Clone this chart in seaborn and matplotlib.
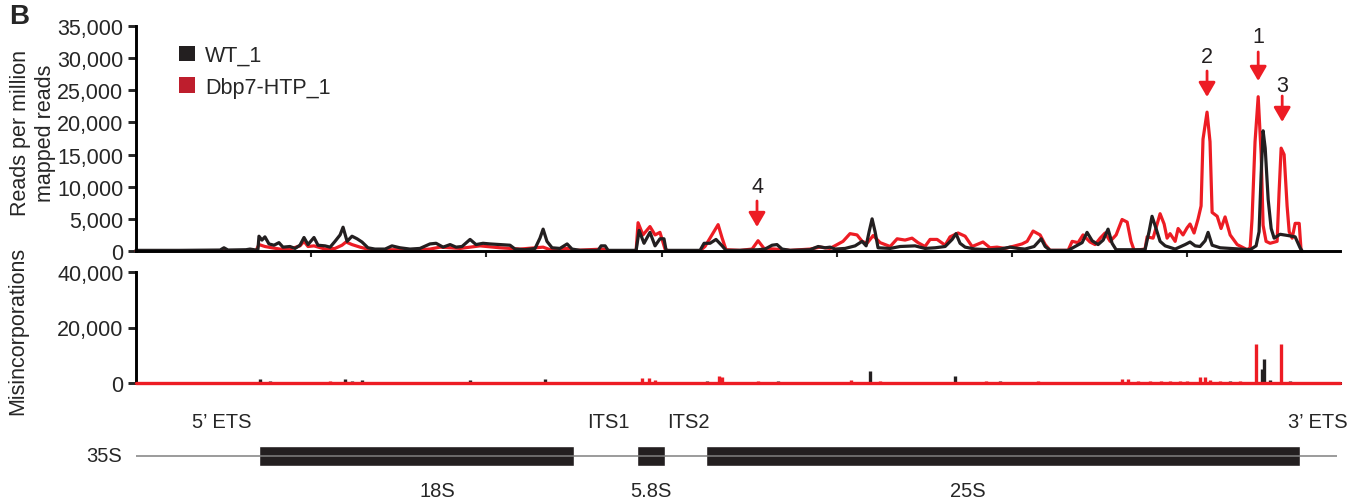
import matplotlib
matplotlib.use("Agg")
import matplotlib.pyplot as plt
import seaborn as sns
import numpy as np
import pandas as pd
from matplotlib.patches import Patch
from matplotlib.ticker import FuncFormatter

# ---------------- data (nucleotide position along 35S, value) ----------------
wt_pos = [0, 251, 480, 502, 525, 628, 651, 685, 696, 702, 719, 736, 759, 788, 816, 839, 879, 908, 936, 959,
          982, 1016, 1039, 1079, 1108, 1136, 1165, 1182, 1205, 1233, 1262, 1290, 1324, 1364, 1422, 1461, 1507,
          1564, 1621, 1678, 1713, 1753, 1793, 1827, 1861, 1907, 1941, 1981, 2021, 2078, 2135, 2164, 2221, 2278,
          2306, 2324, 2346, 2375, 2420, 2461, 2489, 2535, 2638, 2655, 2678, 2695, 2855, 2872, 2900, 2934, 2963,
          2991, 3014, 3026, 3220, 3243, 3277, 3311, 3346, 3368, 3448, 3551, 3591, 3631, 3659, 3688, 3734, 3848,
          3894, 3934, 3962, 3991, 4048, 4105, 4145, 4168, 4185, 4202, 4219, 4236, 4305, 4362, 4447, 4504, 4562,
          4619, 4659, 4681, 4704, 4733, 4790, 4875, 4933, 4990, 5035, 5075, 5127, 5167, 5190, 5218, 5321, 5361,
          5401, 5429, 5458, 5492, 5521, 5549, 5572, 5595, 5760, 5783, 5800, 5823, 5846, 5875, 5932, 5989, 6017,
          6046, 6074, 6103, 6120, 6143, 6189, 6303, 6360, 6394, 6411, 6423, 6434, 6446, 6463, 6480, 6497, 6531,
          6577, 6617, 6645, 6657]
wt_rpm = [100, 100, 150, 500, 150, 200, 300, 150, 200, 2300, 1700, 2200, 1100, 900, 1300, 600, 700, 400, 900, 2100,
          1000, 2100, 900, 800, 600, 1500, 2500, 3700, 1500, 2300, 1900, 1400, 500, 300, 300, 800, 500,
          300, 400, 1100, 1200, 600, 1000, 600, 700, 1800, 1000, 1200, 1100, 1000, 900, 300, 200, 400,
          2000, 3400, 1500, 500, 400, 1100, 300, 100, 100, 800, 800, 100, 100, 3200, 1200, 2900, 800,
          1900, 1900, 100, 100, 1200, 1200, 1800, 800, 100, 100, 200, 300, 900, 1000, 300, 100, 200,
          700, 500, 600, 300, 400, 800, 1500, 800, 3000, 5000, 3000, 500, 400, 700, 800, 400, 500,
          700, 1800, 2700, 1200, 600, 300, 200, 300, 600, 400, 300, 700, 1900, 700, 100, 100, 700,
          1300, 2900, 1600, 1000, 1700, 3400, 1200, 200, 200, 3000, 5400, 3500, 1500, 800, 300, 1000, 1400,
          800, 700, 1600, 2900, 900, 500, 300, 200, 800, 3000, 12000, 18700, 16000, 8000, 3500, 2000, 2600,
          2400, 2200, 500, 0]

dbp_pos = [0, 685, 702, 736, 776, 822, 879, 936, 959, 982, 1016, 1079, 1136, 1176, 1199, 1233, 1279, 1336, 1507,
           1621, 1678, 1736, 1850, 1964, 2078, 2192, 2324, 2364, 2461, 2506, 2666, 2695, 2855, 2866, 2894, 2934,
           2963, 2991, 3020, 3037, 3220, 3248, 3288, 3323, 3346, 3368, 3448, 3517, 3551, 3585, 3648, 3734, 3848,
           3905, 3962, 4036, 4076, 4116, 4145, 4173, 4208, 4248, 4305, 4345, 4390, 4430, 4464, 4504, 4533, 4573,
           4619, 4647, 4693, 4733, 4773, 4835, 4875, 4915, 4961, 5018, 5058, 5087, 5121, 5161, 5190, 5218, 5321,
           5344, 5378, 5406, 5446, 5475, 5504, 5532, 5561, 5595, 5629, 5658, 5680, 5698, 5760, 5772, 5806, 5846,
           5869, 5886, 5903, 5932, 5949, 5977, 6000, 6017, 6040, 6063, 6080, 6091, 6114, 6131, 6143, 6172, 6194,
           6217, 6246, 6286, 6343, 6360, 6371, 6388, 6406, 6423, 6434, 6451, 6474, 6514, 6525, 6537, 6554, 6571,
           6583, 6600, 6617, 6640, 6651]
dbp_rpm = [50, 50, 1000, 700, 500, 300, 300, 800, 1500, 700, 800, 300, 400, 900, 1400, 1000, 600, 200, 200,
           200, 300, 600, 400, 800, 500, 300, 600, 200, 400, 100, 300, 50, 50, 4400, 2500, 3800,
           2500, 2900, 300, 50, 50, 700, 2500, 4100, 2000, 200, 100, 300, 1600, 400, 300, 100, 300,
           600, 400, 1500, 2700, 2500, 1500, 1200, 2400, 1300, 700, 1900, 1700, 2000, 1300, 700, 1800, 1800,
           900, 2200, 2800, 2300, 700, 1400, 500, 600, 400, 800, 1100, 1500, 3100, 2500, 1000, 100, 100,
           1500, 1300, 2500, 1400, 1000, 2000, 2800, 1500, 2500, 4900, 4500, 1500, 100, 300, 2200, 2000, 5800,
           4200, 2000, 2700, 1500, 3500, 2500, 3600, 4200, 2800, 5000, 7000, 17400, 21600, 17000, 6000, 5400, 3500,
           5300, 2500, 1000, 200, 500, 5000, 17000, 24000, 15000, 4000, 1500, 1200, 1500, 9000, 16000, 15000, 7000,
           3000, 2000, 4300, 4300, 0]

# misincorporations
wt_mis_pos = [708, 765, 936, 1193, 1233, 1290, 1507, 1678, 1907, 2050, 2335, 2649, 3260, 3665, 4190, 4676, 4933,
              5330, 5561, 6246, 6428, 6440, 6474, 6588]
wt_mis_val = [1500, 600, 500, 1500, 700, 1000, 400, 500, 1000, 400, 1500, 400, 800, 700, 4500, 2500, 600,
              500, 500, 600, 5000, 8600, 1000, 700]
dbp_mis_pos = [708, 1108, 1193, 1507, 2889, 2929, 2963, 3328, 3346, 3551, 3880, 4082, 4248, 4450, 4853, 5047, 5150,
               5275, 5629, 5663, 5720, 5789, 5850, 5903, 5960, 6000, 6074, 6103, 6131, 6189, 6250, 6303, 6394,
               6537, 6588]
dbp_mis_val = [800, 800, 600, 400, 1700, 1700, 1000, 2500, 2300, 800, 500, 1000, 600, 500, 800, 500, 600,
               400, 1500, 1500, 600, 600, 800, 800, 600, 700, 2000, 2000, 1200, 700, 500, 600, 14000,
               14000, 500]

# 35S pre-rRNA map
transcript_end = 6858
mature_names = ["18S", "5.8S", "25S"]
mature_start = [700, 2861, 3251]
mature_end = [2500, 3019, 6647]
mature_label_pos = [1718, 2940, 4750]
spacer_names = ["5\u2019 ETS", "ITS1", "ITS2", "3\u2019 ETS"]
spacer_label_pos = [491, 2695, 3151, 6748]

# annotated peaks
peak_labels = ["1", "2", "3", "4"]
peak_pos = [6406, 6114, 6543, 3545]

series_names = ["WT_1", "Dbp7-HTP_1"]

# ---------------- style ----------------
sns.set_theme(style="white")
plt.rcParams["font.family"] = ["Liberation Sans", "DejaVu Sans"]

BLACK = "#231f20"
RED = "#ed1c24"
RED_LEG = "#be1e2d"
XMAX = 6873

fig = plt.figure(figsize=(13.55, 5.02), dpi=100)
L = 136 / 1355
W = (1340 - 136) / 1355
ax1 = fig.add_axes([L, 250 / 502, W, 225 / 502])
ax2 = fig.add_axes([L, 118 / 502, W, 111 / 502])
ax3 = fig.add_axes([L, 0, W, 100 / 502])

df_wt = pd.DataFrame({"pos": wt_pos, "val": wt_rpm})
df_dbp = pd.DataFrame({"pos": dbp_pos, "val": dbp_rpm})

sns.lineplot(data=df_dbp, x="pos", y="val", ax=ax1, color=RED, lw=2.3, estimator=None, sort=False)
sns.lineplot(data=df_wt, x="pos", y="val", ax=ax1, color=BLACK, lw=2.3, estimator=None, sort=False)
for ln in ax1.lines:
    ln.set_clip_on(False)

fmt = FuncFormatter(lambda v, p: f"{int(v):,}")
for ax in (ax1, ax2):
    ax.set_xlim(0, XMAX)
    for s in ("top", "right"):
        ax.spines[s].set_visible(False)
    for s in ("left", "bottom"):
        ax.spines[s].set_linewidth(2.1)
        ax.spines[s].set_color("black")
    ax.yaxis.set_major_formatter(fmt)
    ax.tick_params(axis="y", direction="out", length=6, width=2.1, labelsize=15.5, pad=3, left=True)
    ax.set_xlabel("")
    ax.set_ylabel("")

ax1.set_ylim(0, 35000)
ax1.set_yticks(np.arange(0, 35001, 5000))
ax1.set_xticks(np.arange(1000, 6001, 1000))
ax1.tick_params(axis="x", direction="out", length=4, width=1.5, labelbottom=False, bottom=True)

ax2.set_ylim(0, 40000)
ax2.set_yticks([0, 20000, 40000])
ax2.set_xticks([])
ax2.vlines(dbp_mis_pos, 0, dbp_mis_val, color=RED, lw=2.4)
ax2.vlines(wt_mis_pos, 0, wt_mis_val, color=BLACK, lw=2.4)
ax2.axhline(0, color=RED, lw=2.4, zorder=5, clip_on=False)

# legend
handles = [Patch(facecolor=BLACK, edgecolor="none"), Patch(facecolor=RED_LEG, edgecolor="none")]
fig.legend(handles, series_names, loc="upper left", bbox_to_anchor=(179 / 1355, 1 - 46 / 502),
           frameon=False, fontsize=15.5, handlelength=0.75, handleheight=0.75, handletextpad=0.45,
           labelspacing=0.5, borderpad=0, borderaxespad=0)

# arrows
tails = [30960, 28000, 24110, 7780]
tips = [26450, 23960, 20070, 3730]
labs = [33290, 30330, 25820, 9960]
for lab, x, t0, t1, ly in zip(peak_labels, peak_pos, tails, tips, labs):
    ax1.annotate("", xy=(x, t1), xytext=(x, t0),
                 arrowprops=dict(arrowstyle="-|>,head_width=0.36,head_length=0.62", color=RED, lw=2,
                                 shrinkA=0, shrinkB=0, mutation_scale=14), annotation_clip=False)
    ax1.text(x, ly, lab, ha="center", va="center", fontsize=15.5, color=BLACK, clip_on=False)

# y labels and panel letter
fig.text(33 / 1355, 1 - 133 / 502, "Reads per million\nmapped reads", rotation=90, ha="center", va="center",
         fontsize=15.5, linespacing=1.2)
fig.text(18 / 1355, 1 - 331 / 502, "Misincorporations", rotation=90, ha="center", va="center", fontsize=15.5)
fig.text(9 / 1355, 1 - 17 / 502, "B", ha="left", va="center", fontsize=20, fontweight="bold")

# gene map
ax3.set_xlim(0, XMAX)
ax3.set_ylim(0, 100)
ax3.axis("off")
ax3.hlines(45, 0, transcript_end, color="#808080", lw=1.1)
ax3.barh(y=[45] * len(mature_names), width=np.array(mature_end) - np.array(mature_start),
         left=mature_start, height=20, color=BLACK)
for name, x in zip(mature_names, mature_label_pos):
    ax3.text(x, 10, name, ha="center", va="center", fontsize=14.5)
for name, x in zip(spacer_names, spacer_label_pos):
    ax3.text(x, 79, name, ha="center", va="center", fontsize=14.5, clip_on=False)
ax3.text(-80, 45, "35S", ha="right", va="center", fontsize=14.5, clip_on=False)

fig.savefig("out.png", dpi=100)
